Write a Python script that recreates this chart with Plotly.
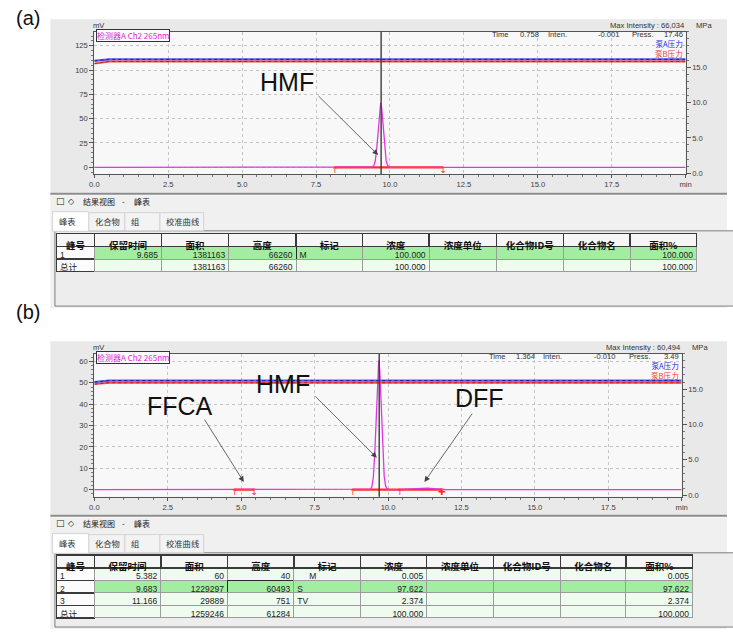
import plotly.graph_objects as go

W, H = 733, 637

# ---------------- chromatogram (a) ----------------
time_a = [0.0, 9.20, 9.35, 9.40, 9.45, 9.50, 9.55, 9.60, 9.65, 9.685, 9.72, 9.77,
          9.82, 9.87, 9.92, 9.97, 10.02, 10.10, 20.0]
signal_a = [0.0, 0.0, 0.03, 0.24, 1.45, 6.2, 18.8, 40.2, 60.9, 66.26, 60.9, 40.5,
            19.5, 6.8, 1.8, 0.4, 0.1, 0.0, 0.0]
press_time_a = [0.0, 0.2, 0.5, 20.0]
pumpA_a = [15.9, 16.0, 16.1, 16.1]
pumpB_a = [15.5, 15.6, 15.8, 15.8]
seg_start_a = [8.14]
seg_end_a = [11.80]
cursor_a = 9.70

# ---------------- chromatogram (b) ----------------
time_b = [0.0, 4.78, 5.10, 5.382, 5.45, 9.20, 9.35, 9.40, 9.45, 9.50, 9.55, 9.60,
          9.65, 9.683, 9.72, 9.77, 9.82, 9.87, 9.92, 9.97, 10.02, 10.10, 10.41,
          10.60, 10.80, 11.00, 11.166, 11.35, 11.55, 11.75, 11.83, 12.0, 20.0]
signal_b = [0.0, 0.0, 0.03, 0.04, 0.03, 0.0, 0.03, 0.22, 1.32, 5.7, 17.2, 36.7,
            55.6, 60.49, 55.6, 37.0, 17.8, 6.2, 1.6, 0.35, 0.08, 0.0, 0.05,
            0.2, 0.45, 0.68, 0.75, 0.65, 0.42, 0.18, 0.1, 0.02, 0.0]
press_time_b = [0.0, 0.2, 0.5, 20.0]
pumpA_b = [16.0, 16.1, 16.2, 16.2]
pumpB_b = [15.7, 15.8, 15.9, 15.9]
seg_start_b = [4.78, 8.81, 10.41]
seg_end_b = [5.45, 10.41, 11.83]
cursor_b = 9.70

# ---------------- peak tables ----------------
headers = ["峰号", "保留时间", "面积", "高度", "标记", "浓度", "浓度单位", "化合物ID号", "化合物名", "面积%"]

peak_no_a = ["1", "总计"]
rt_a = [9.685, None]
area_a = [1381163, 1381163]
height_a = [66260, 66260]
mark_a = ["M", ""]
conc_a = [100.000, 100.000]
area_pct_a = [100.000, 100.000]

peak_no_b = ["1", "2", "3", "总计"]
rt_b = [5.382, 9.683, 11.166, None]
area_b = [60, 1229297, 29889, 1259246]
height_b = [40, 60493, 751, 61284]
mark_b = ["\u00a0\u00a0\u00a0\u00a0\u00a0M", "S", "TV", ""]
conc_b = [0.005, 97.622, 2.374, 100.000]
area_pct_b = [0.005, 97.622, 2.374, 100.000]

# ---------------- styling ----------------
SIG = "#e036e0"
RED = "#ff2b2b"
SANS = "Liberation Sans, Arial, Noto Sans CJK SC"
NARROW = "Liberation Sans Narrow, Liberation Sans, Arial, Noto Sans CJK SC"
CJK = "Noto Sans CJK SC"
GREEN = "#a3eda3"
LIGHT = "#effbef"
CLEAR = "rgba(0,0,0,0)"

fig = go.Figure()


def chrom(time, sig, pt, pa, pb, starts, ends, xa, ya, ya2, mark_y, end_syms):
    for s, e in zip(starts, ends):
        fig.add_trace(go.Scatter(x=[s, e], y=[0, 0], mode="lines",
                                 line=dict(color=RED, width=2.2),
                                 xaxis=xa, yaxis=ya, hoverinfo="skip"))
    fig.add_trace(go.Scatter(x=time, y=sig, mode="lines",
                             line=dict(color=SIG, width=1.3), xaxis=xa, yaxis=ya))
    fig.add_trace(go.Scatter(x=pt, y=pa, mode="lines",
                             line=dict(color="#5858f2", width=2.2), xaxis=xa, yaxis=ya2))
    fig.add_trace(go.Scatter(x=pt, y=pa, mode="lines",
                             line=dict(color="#20209a", width=1, dash="dot"), xaxis=xa, yaxis=ya2))
    fig.add_trace(go.Scatter(x=pt, y=pb, mode="lines",
                             line=dict(color="#f24848", width=1.8), xaxis=xa, yaxis=ya2))
    fig.add_trace(go.Scatter(x=pt, y=pb, mode="lines",
                             line=dict(color="#a81818", width=0.8, dash="dot"), xaxis=xa, yaxis=ya2))
    fig.add_trace(go.Scatter(x=starts, y=[mark_y] * len(starts), mode="text",
                             text=["↑"] * len(starts),
                             textfont=dict(color=RED, size=9, family="DejaVu Sans"),
                             xaxis=xa, yaxis=ya))
    ex = [e for e in ends if e not in starts]
    fig.add_trace(go.Scatter(x=ex, y=[mark_y] * len(ex), mode="text",
                             text=end_syms,
                             textfont=dict(color=RED, size=9, family="DejaVu Sans"),
                             xaxis=xa, yaxis=ya))


chrom(time_a, signal_a, press_time_a, pumpA_a, pumpB_a, seg_start_a, seg_end_a,
      "x", "y", "y2", -3.8, ["↓"])
chrom(time_b, signal_b, press_time_b, pumpA_b, pumpB_b, seg_start_b, seg_end_b,
      "x2", "y3", "y4", -1.5, ["↓", "✚"])


def fmt(v, f):
    return "" if v is None else format(v, f)


ALIGNS = ["left", "right", "right", "right", "left", "right", "left", "left", "left", "right"]


def add_table(peak_no, rt, area, height, mark, conc, pct, widths, sel_row, sel_col,
              x0, x1, ytop, ybot):
    n = len(peak_no)
    empty = [""] * n
    cols = [peak_no, [fmt(v, ".3f") for v in rt], [fmt(v, "d") for v in area],
            [fmt(v, "d") for v in height], mark, [fmt(v, ".3f") for v in conc],
            empty, empty, empty, [fmt(v, ".3f") for v in pct]]
    fills, lcol = [], []
    for ci in range(10):
        if ci == 0:
            fills.append(["#fcfcfc"] * n)
            lcol.append(["#3a3a3a"] * n)
        else:
            fills.append([GREEN if r == sel_row else LIGHT for r in range(n)])
            lcol.append(["#2a2a2a" if (r == sel_row and ci == sel_col) else "#9c9c9c"
                         for r in range(n)])
    lw = [1.5] + [1] * 9
    # grid: fills, borders and header labels
    fig.add_trace(go.Table(
        domain=dict(x=[x0 / W, x1 / W], y=[1 - ybot / H, 1 - ytop / H]),
        columnwidth=widths,
        header=dict(values=headers, height=13, fill_color="#f6f6f6",
                    line=dict(color="#3a3a3a", width=1.5), align="center",
                    font=dict(family=CJK, size=9.5, color="#111", weight="bold")),
        cells=dict(values=[empty] * 10, height=12.5, fill_color=fills,
                   line=dict(color=lcol, width=lw))))
    # cell values, laid on the grid (left- and right-aligned columns)
    for side, dx in (("left", -4.5), ("right", 4.5)):
        vals = [c if ALIGNS[i] == side else empty for i, c in enumerate(cols)]
        fig.add_trace(go.Table(
            domain=dict(x=[(x0 + dx) / W, (x1 + dx) / W],
                        y=[1 - (ybot - 3) / H, 1 - (ytop - 3) / H]),
            columnwidth=widths,
            header=dict(values=[""] * 10, height=13, fill_color=CLEAR,
                        line=dict(color=CLEAR, width=0)),
            cells=dict(values=vals, height=12.5, fill_color=CLEAR,
                       line=dict(color=CLEAR, width=0), align=side,
                       font=dict(family=NARROW, size=8.5, color="#222"))))


add_table(peak_no_a, rt_a, area_a, height_a, mark_a, conc_a, area_pct_a,
          [38.4, 68.3, 68.3, 68.4, 67.6, 67.7, 68.3, 68.0, 68.0, 67.4],
          0, 4, 52.3, 702.7, 235, 300)
add_table(peak_no_b, rt_b, area_b, height_b, mark_b, conc_b, area_pct_b,
          [38.4, 67.6, 67.7, 67.3, 67.7, 67.3, 67.7, 68.0, 66.7, 67.6],
          1, 3, 52.3, 698.3, 558.5, 630)

# ---------------- axes ----------------
tickfont = dict(family=SANS, size=7.6, color="#3c3c3c")
xt = [0, 2.5, 5, 7.5, 10, 12.5, 15, 17.5, 20]
xtt = ["0.0", "2.5", "5.0", "7.5", "10.0", "12.5", "15.0", "17.5", "min"]


def xax(x0, x1, ya):
    return dict(domain=[x0 / W, x1 / W], range=[0, 20], anchor=ya, tickmode="array",
                tickvals=xt, ticktext=xtt, ticks="outside", ticklen=3, tickcolor="#555",
                tickfont=tickfont, showline=True, linecolor="#555", linewidth=1,
                mirror=True, showgrid=True, gridcolor="#c4c4c4", griddash="dot",
                gridwidth=1, zeroline=False, fixedrange=True,
                minor=dict(tick0=0, dtick=0.5, ticks="outside", ticklen=2,
                           tickcolor="#777", showgrid=False))


def yl(ytop, ybot, rng, vals, mdt, xa):
    return dict(domain=[1 - ybot / H, 1 - ytop / H], range=rng, anchor=xa,
                tickmode="array", tickvals=vals, ticktext=[str(v) for v in vals],
                ticks="outside", ticklen=4, tickcolor="#555", tickfont=tickfont,
                showline=True, linecolor="#555", linewidth=1, mirror=True,
                showgrid=True, gridcolor="#c4c4c4", griddash="dot", gridwidth=1,
                zeroline=False, fixedrange=True,
                minor=dict(tick0=0, dtick=mdt, ticks="outside", ticklen=2,
                           tickcolor="#777", showgrid=False))


def yr(over, rng, xa):
    return dict(overlaying=over, side="right", anchor=xa, range=rng, tickmode="array",
                tickvals=[0, 5, 10, 15], ticktext=["0.0", "5.0", "10.0", "15.0"],
                ticks="outside", ticklen=4, tickcolor="#555", tickfont=tickfont,
                showline=True, linecolor="#555", linewidth=1, showgrid=False,
                zeroline=False, fixedrange=True,
                minor=dict(tick0=0, dtick=1, ticks="outside", ticklen=2, tickcolor="#777"))


# ---------------- background shapes ----------------
shapes = []


def rect(x0, y0, x1, y1, fill, line=None, lw=0):
    shapes.append(dict(type="rect", xref="paper", yref="paper", x0=x0 / W, x1=x1 / W,
                       y0=1 - y1 / H, y1=1 - y0 / H, fillcolor=fill,
                       line=dict(color=line or fill, width=lw), layer="below"))


def hline(x0, x1, y, color, lw):
    shapes.append(dict(type="line", xref="paper", yref="paper", x0=x0 / W, x1=x1 / W,
                       y0=1 - y / H, y1=1 - y / H, line=dict(color=color, width=lw),
                       layer="below"))


def panel(off, xa, ya, results_bottom):
    rect(46, 19.3 + off, 733, 194 + off, "#e9e9e9")
    shapes.append(dict(type="rect", xref=xa + " domain", yref=ya + " domain",
                       x0=0, x1=1, y0=0, y1=1, fillcolor="#f8f8f8",
                       line=dict(width=0), layer="below"))
    hline(46, 733, 195 + off, "#8c8c8c", 2)
    rect(46, 196.5 + off, 733, results_bottom, "#f0f0f0")
    rect(50.7, 232.3 + off, 745, results_bottom - 2, "#ededed", "#7e7e7e", 1)
    rect(85, 214 + off, 121.7, 232.3 + off, "#f3f3f3", "#d4d4d4", 1)
    rect(121.7, 214 + off, 157.3, 232.3 + off, "#f3f3f3", "#d4d4d4", 1)
    rect(157.3, 214 + off, 201.7, 232.3 + off, "#f3f3f3", "#d4d4d4", 1)
    rect(48.3, 213 + off, 85, 232.8 + off, "#ffffff", "#d4d4d4", 1)


panel(0, "x", "y", 310)
panel(324, "x2", "y3", 633)

# ---------------- annotations ----------------
anns = []


def txt(x, y, s, size=8, color="#333", xanchor="left", family=SANS, **kw):
    anns.append(dict(xref="paper", yref="paper", x=x / W, y=1 - y / H, text=s,
                     showarrow=False, xanchor=xanchor, yanchor="middle",
                     font=dict(size=size, color=color, family=family), **kw))


def label(xa, ya, x, y, s):
    anns.append(dict(xref=xa, yref=ya, x=x, y=y, text=s, showarrow=False,
                     font=dict(size=25, color="#111", family=SANS)))


def arrow(xa, ya, tail, head):
    anns.append(dict(xref=xa, yref=ya, axref=xa, ayref=ya, x=head[0], y=head[1],
                     ax=tail[0], ay=tail[1], text="", showarrow=True, arrowhead=2,
                     arrowsize=1.4, arrowwidth=0.8, arrowcolor="#444"))


def header_texts(off, right, info, maxint):
    txt(87.5, 26 + off, "mV", 7.6, "#333")
    txt(92, 36 + off, "检测器A Ch2 265nm", 8, "#e01ee0", family=CJK,
        bordercolor="#333", borderwidth=1, borderpad=0, bgcolor="#fbfbfb")
    txt(right, 26 + off, "Max Intensity : " + maxint, 7.6, "#333", "right")
    txt(right + 8, 26 + off, "MPa", 7.6, "#333")
    for (xx, s, anc) in info:
        txt(xx, 35 + off, s, 7.6, "#333", anc)
    txt(right - 1.5, 49.2 + off,
        "<span style='color:#2a2ae8'>泵A压力</span><br>"
        "<span style='color:#f03a3a'>泵B压力</span>",
        7.6, "#2a2ae8", "right", family=CJK, borderpad=0, align="right")


def results_texts(off):
    txt(49.5, 202.7 + off, "□", 9, "#222", family="DejaVu Sans")
    txt(62, 202.7 + off, "◇", 8, "#222", family="DejaVu Sans")
    txt(77.5, 202.7 + off, "结果视图", 8, "#222", family=CJK)
    txt(116.5, 202.7 + off, "-", 8, "#222")
    txt(128.5, 202.7 + off, "峰表", 8, "#222", family=CJK)
    txt(52.5, 222.7 + off, "峰表", 8.3, "#333", family=CJK)
    txt(89.3, 222.7 + off, "化合物", 8.3, "#333", family=CJK)
    txt(125.5, 222.7 + off, "组", 8.3, "#333", family=CJK)
    txt(161.5, 222.7 + off, "校准曲线", 8.3, "#333", family=CJK)


txt(9, 18, "(a)", 20, "#111")
txt(9, 314, "(b)", 20, "#111")

header_texts(0, 691, [(492, "Time", "left"), (520.5, "0.758", "left"), (549.5, "Inten.", "left"),
                      (626, "-0.001", "right"), (634.5, "Press.", "left"), (690.5, "17.46", "right")],
             "66,034")
header_texts(324, 687, [(489.5, "Time", "left"), (516.5, "1.364", "left"), (544, "Inten.", "left"),
                        (622, "-0.010", "right"), (631.5, "Press.", "left"), (686, "3.49", "right")],
             "60,494")
results_texts(0)
results_texts(324)

label("x", "y", 6.51, 88.2, "HMF")
arrow("x", "y", (7.53, 74.9), (9.60, 12.6))

label("x2", "y3", 2.91, 39.3, "FFCA")
arrow("x2", "y3", (3.72, 33.5), (5.09, 3.6))
label("x2", "y3", 6.44, 49.3, "HMF")
arrow("x2", "y3", (7.47, 44.4), (9.62, 14.9))
label("x2", "y3", 13.12, 43.1, "DFF")
arrow("x2", "y3", (12.90, 36.2), (11.24, 3.6))

# cursor lines
shapes.append(dict(type="line", xref="x", yref="y domain", x0=cursor_a, x1=cursor_a,
                   y0=0, y1=1, line=dict(color="#3c3c3c", width=1.4), layer="above"))
shapes.append(dict(type="line", xref="x2", yref="y3 domain", x0=cursor_b, x1=cursor_b,
                   y0=0, y1=1, line=dict(color="#3c3c3c", width=1.4), layer="above"))

fig.update_layout(
    width=W, height=H, margin=dict(l=0, r=0, t=0, b=0),
    paper_bgcolor="white", plot_bgcolor="rgba(0,0,0,0)",
    showlegend=False,
    xaxis=xax(90.7, 691, "y"),
    yaxis=yl(32, 175, [-6.8, 139.4], [0, 25, 50, 75, 100, 125], 5, "x"),
    yaxis2=yr("y", [-0.1, 20.0], "x"),
    xaxis2=xax(90.7, 687, "y3"),
    yaxis3=yl(356, 500, [-3.4, 63.6], [0, 10, 20, 30, 40, 50, 60], 2, "x2"),
    yaxis4=yr("y3", [-0.24, 20.0], "x2"),
    shapes=shapes,
    annotations=anns,
    font=dict(family=SANS),
)

fig.write_html("out.html", config={"displayModeBar": False})
